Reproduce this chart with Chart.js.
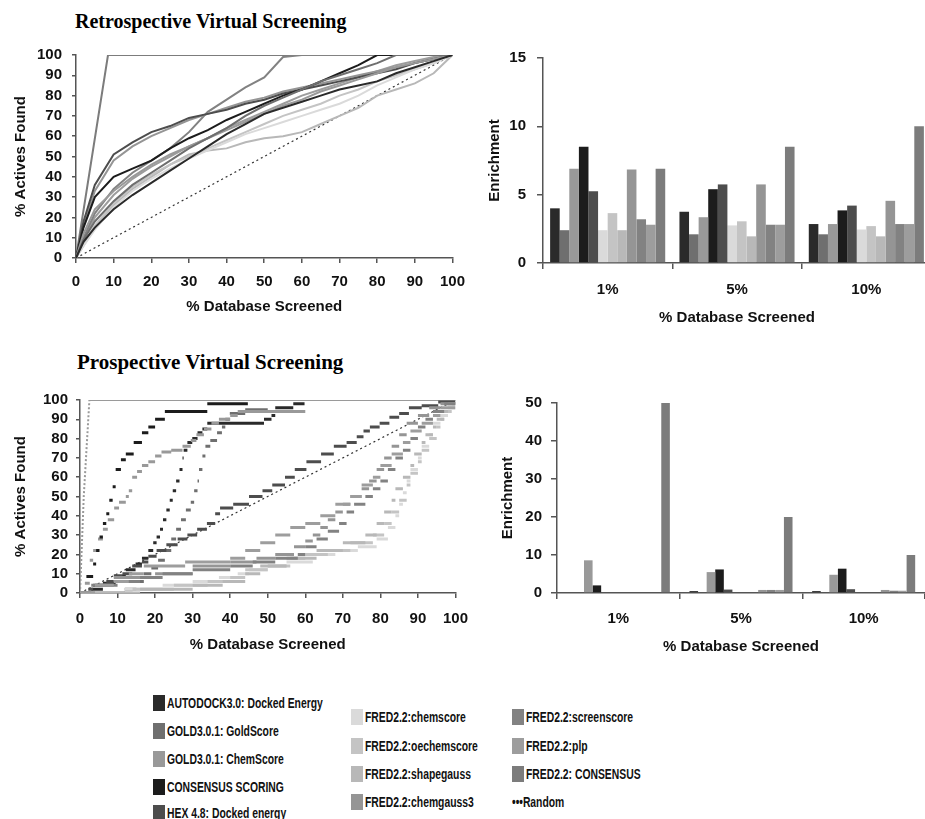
<!DOCTYPE html>
<html lang="en">
<head>
<meta charset="UTF-8">
<title>Retrospective and Prospective Virtual Screening</title>
<script src="https://cdn.jsdelivr.net/npm/chart.js"></script>
<style>
  html, body { margin: 0; padding: 0; background: #fff; }
  body { width: 925px; height: 819px; position: relative; overflow: hidden; font-family: "Liberation Sans", Arial, sans-serif; }
  canvas { position: absolute; }
  .titulo { position: absolute; font-family: "Liberation Serif", "Times New Roman", serif; font-weight: bold; line-height: 20px; color: #000; white-space: nowrap; }
  .leg { position: absolute; height: 16px; line-height: 16px; white-space: nowrap; }
  .leg .sw { position: absolute; left: 0; top: 0; width: 12px; height: 16px; }
  .leg .tx { position: absolute; left: 14px; top: 0; font-weight: bold; font-size: 14px; color: #111; transform: scaleX(0.74); transform-origin: left center; }
</style>
</head>
<body>
<div class="titulo" style="left:75px; top:11px; font-size:20px">Retrospective Virtual Screening</div>
<div class="titulo" style="left:77px; top:352px; font-size:21px">Prospective Virtual Screening</div>

<canvas id="retroLines" width="475" height="300" style="left:0; top:30px"></canvas>
<canvas id="retroBars" width="470" height="310" style="left:470px; top:30px"></canvas>
<canvas id="prospLines" width="480" height="285" style="left:0; top:375px"></canvas>
<canvas id="prospBars" width="465" height="280" style="left:470px; top:380px"></canvas>

<div id="legenda"></div>

<script>
// series, in legend / bar order
const seriesNames = [
  "AUTODOCK3.0: Docked Energy", "GOLD3.0.1: GoldScore", "GOLD3.0.1: ChemScore",
  "CONSENSUS SCORING", "HEX 4.8: Docked energy", "FRED2.2:chemscore",
  "FRED2.2:oechemscore", "FRED2.2:shapegauss", "FRED2.2:chemgauss3",
  "FRED2.2:screenscore", "FRED2.2:plp", "FRED2.2: CONSENSUS"
];
const seriesColors = [
  "#2a2a2a", "#6f6f6f", "#999999", "#1c1c1c", "#4d4d4d", "#dadada",
  "#c4c4c4", "#b8b8b8", "#959595", "#828282", "#9d9d9d", "#7c7c7c"
];

const categories = ["1%", "5%", "10%"];

// enrichment per series at 1%, 5%, 10%
const retroEnrichment = [
  [4.0, 3.75, 2.85], [2.4, 2.1, 2.1], [6.9, 3.35, 2.85], [8.5, 5.4, 3.85],
  [5.25, 5.75, 4.2], [2.4, 2.75, 2.45], [3.65, 3.05, 2.7], [2.4, 1.95, 1.95],
  [6.85, 5.75, 4.55], [3.2, 2.8, 2.85], [2.8, 2.8, 2.85], [6.9, 8.5, 10.0]
];
const prospEnrichment = [
  [0, 0.5, 0.5], [0, 0, 0], [8.6, 5.5, 4.8], [2.0, 6.2, 6.4],
  [0, 0.9, 1.0], [0, 0, 0], [0, 0, 0], [0, 0, 0],
  [0, 0.8, 0.8], [0, 0.8, 0.6], [0, 0.8, 0.6], [50, 20, 10]
];

// retrospective curves: % actives found at these % screened
const retroX = [0, 2, 5, 10, 15, 20, 25, 30, 35, 40, 45, 50, 55, 60, 65, 70, 75, 80, 85, 90, 95, 100];
const retroCurves = [
  [0, 8, 15, 24, 31, 37, 43, 49, 55, 61, 66, 71, 74, 77, 80, 83, 85, 87, 91, 94, 97, 100],
  [0, 9, 18, 28, 36, 42, 48, 54, 59, 64, 70, 75, 79, 83, 87, 90, 93, 96, 100, 100, 100, 100],
  [0, 12, 24, 33, 40, 46, 51, 55, 59, 63, 67, 71, 75, 78, 82, 85, 88, 91, 94, 96, 98, 100],
  [0, 15, 30, 40, 44, 48, 54, 59, 63, 68, 72, 76, 80, 83, 87, 91, 95, 100, 100, 100, 100, 100],
  [0, 18, 36, 51, 57, 62, 65, 69, 71, 73, 76, 78, 81, 83, 85, 87, 89, 91, 93, 96, 98, 100],
  [0, 6, 14, 25, 33, 39, 44, 49, 53, 57, 61, 64, 67, 70, 73, 76, 80, 85, 89, 93, 96, 100],
  [0, 7, 16, 27, 35, 41, 46, 50, 54, 58, 62, 66, 70, 73, 76, 80, 83, 87, 90, 93, 96, 100],
  [0, 6, 15, 26, 34, 40, 46, 51, 53, 54, 57, 59, 60, 62, 66, 70, 74, 80, 83, 86, 91, 100],
  [0, 16, 33, 48, 55, 60, 64, 68, 71, 74, 77, 79, 82, 84, 86, 88, 90, 92, 94, 96, 98, 100],
  [0, 10, 22, 34, 42, 48, 54, 62, 72, 78, 84, 89, 99, 100, 100, 100, 100, 100, 100, 100, 100, 100],
  [0, 9, 20, 31, 39, 45, 50, 55, 59, 64, 68, 72, 76, 80, 83, 86, 89, 92, 95, 97, 99, 100],
  null
];
const retroConsensusX = [0, 8.5, 100];
const retroConsensusY = [0, 100, 100];

// prospective curves: [% screened, % actives found] at each step
const prospCurves = [
  [[0,0],[3,2],[6.1,5],[9.5,8.5],[12.2,12],[14.8,15],[16.5,18],[18.2,22],[19.5,26],[20.4,29],[21.3,33],[22.1,38],[23,43],[23.9,48],[24.7,53],[25.6,58],[26.5,64],[27.3,70],[27.6,74],[28.6,78],[29.9,80],[31.3,83],[32.6,85],[33.9,88],[49,90],[51,92],[52,96],[56.8,98],[59.8,98]],
  [[0,0],[12,2],[15,6],[17,10],[19,13],[20.8,17],[22.6,22],[24.3,28],[25.6,33],[26.9,38],[28.2,43],[29.5,47],[30.4,53],[31.3,58],[31.7,64],[32.6,71],[33.4,76],[34.7,79],[36.5,83],[37.8,86],[38.7,90],[39.9,93],[44,95],[50,95]],
  [[0,0],[1.3,5],[2.6,17],[3.5,22],[4.8,28],[6.1,33],[7.4,38],[9.1,44],[10.4,47],[12.2,50],[13,53],[13.9,60],[15.2,63],[16.5,66],[18.2,68],[20,71],[21.7,73],[24.3,74],[27.3,76],[29.5,79],[31,82],[33,85],[35,88],[37,90],[40,92],[42,94],[60,94]],
  [[0,0],[1.7,8.5],[3.5,15],[4.3,22],[5.2,29],[6.1,36],[7,41],[7.8,48],[8.7,55],[9.5,64],[10.9,69],[12.2,72],[14.3,78],[16.5,83],[18.2,86],[20,90],[22.6,94],[33.9,98],[44.7,98]],
  [[0,0],[2.2,2],[3.5,4],[7,6],[9,9],[11.3,10],[13.9,14],[16.5,16],[18.2,19],[20.4,22],[23,25],[26,28],[28.6,30],[31.2,33],[33.8,36],[36,41],[37.3,44],[40.8,46],[45,50],[48.6,53],[51.2,56],[54.6,60],[57.2,64],[60.3,68],[64.2,72],[67.6,76],[71,78],[73.7,81],[75.5,84],[77.2,86],[79.8,88],[82.4,91],[85,93],[87.6,96],[91,97],[95.4,99],[100,100]],
  [[0,0],[11.7,2],[22,4],[30,6],[37,8],[42,10],[45,12],[50,14],[55,16],[62,20],[68,22],[74,24],[79,28],[82,34],[84,40],[85,46],[86,52],[87,58],[88,64],[90,70],[91,76],[93,82],[94,88],[96,92],[98,96],[100,100]],
  [[0,0],[14,2],[25,4],[34,6],[40,8],[44,12],[50,14],[56,18],[60,20],[66,22],[72,26],[78,30],[81,36],[83,42],[85,48],[87,56],[88,62],[90,68],[91,74],[93,80],[95,86],[96,90],[97,94],[99,98],[100,100]],
  [[0,0],[16,2],[30,4],[38,6],[44,10],[48,14],[55,18],[63,22],[70,26],[76,30],[79,36],[81,42],[83,48],[84,54],[86,60],[88,66],[89,72],[91,78],[92,82],[94,86],[95,90],[97,94],[98,98],[100,100]],
  [[0,0],[4,4],[9,8],[20,10],[30,14],[40,16],[47,18],[52,20],[57,24],[60,27],[62,30],[64,34],[66,38],[68,42],[70,46],[72,50],[75,54],[77,58],[79,64],[81,70],[83,76],[85,82],[87,88],[90,92],[93,96],[96,98],[100,100]],
  [[0,0],[3,4],[10,6],[16,8],[22,10],[30,12],[40,14],[46,16],[52,18],[58,20],[60,24],[63,28],[66,32],[69,36],[71,42],[73,46],[76,50],[78,54],[80,58],[82,64],[84,70],[86,74],[88,80],[90,86],[92,90],[94,94],[97,98],[100,100]],
  [[0,0],[4,4],[9,6],[13,10],[17,14],[28,16],[40,18],[44,22],[48,26],[52,30],[56,34],[60,36],[64,40],[68,46],[72,50],[75,56],[78,60],[80,66],[83,72],[86,78],[88,84],[91,88],[94,92],[96,96],[100,100]],
  [[0,0],[1,50],[2.5,100],[100,100]]
];

const randomLine = [[0, 0], [100, 100]];

Chart.defaults.font.family = '"Liberation Sans", Arial, sans-serif';
Chart.defaults.font.weight = 'bold';
Chart.defaults.font.size = 15;
Chart.defaults.color = '#111';

const corEixo = '#555';

function eixoLinear(min, max, passo, titulo, ajuste, tituloPad, tick, pad) {
  return {
    type: 'linear', min: min, max: max,
    ticks: { stepSize: passo, autoSkip: false, maxRotation: 0, padding: pad, font: { size: 15, weight: 'bold' }, color: '#111' },
    grid: { drawOnChartArea: false, drawTicks: true, tickLength: tick, color: corEixo, lineWidth: 1.5 },
    border: { display: true, color: corEixo, width: 1.5 },
    title: { display: true, text: titulo, padding: tituloPad, font: { size: 15, weight: 'bold' }, color: '#111' },
    afterFit: ajuste
  };
}

function larguraFixa(w) { return s => { s.width = w; }; }
function alturaFixa(h) { return s => { s.height = h; }; }

function graficoLinhas(id, datasets, cfg) {
  new Chart(document.getElementById(id), {
    type: 'line',
    data: { datasets: datasets },
    options: {
      responsive: false, animation: false,
      layout: { padding: cfg.padding },
      plugins: { legend: { display: false }, tooltip: { enabled: false } },
      elements: { point: { radius: 0 }, line: { tension: 0 } },
      scales: {
        x: eixoLinear(0, 100, 10, '% Database Screened', alturaFixa(cfg.xAltura), { bottom: cfg.xTituloPad }, 5, cfg.xTickPad),
        y: eixoLinear(0, 100, 10, '% Actives Found', larguraFixa(cfg.yLargura), { top: cfg.yTituloPad }, 4, cfg.yTickPad)
      }
    }
  });
}

function graficoBarras(id, valores, cfg) {
  const datasets = seriesNames.map((nome, i) => ({
    label: nome,
    data: valores[i],
    backgroundColor: seriesColors[i],
    borderWidth: 0,
    barPercentage: 1.0,
    categoryPercentage: cfg.catPct
  }));
  new Chart(document.getElementById(id), {
    type: 'bar',
    data: { labels: categories, datasets: datasets },
    options: {
      responsive: false, animation: false,
      layout: { padding: cfg.padding },
      plugins: { legend: { display: false }, tooltip: { enabled: false } },
      scales: {
        x: {
          ticks: { padding: cfg.xTickPad, font: { size: 15, weight: 'bold' }, color: '#111' },
          grid: { drawOnChartArea: false, drawTicks: true, tickLength: 6, color: corEixo, lineWidth: 1.5, offset: true },
          border: { display: true, color: corEixo, width: 1.5 },
          title: { display: true, text: '% Database Screened', padding: { bottom: cfg.xTituloPad }, font: { size: 15, weight: 'bold' }, color: '#111' },
          afterFit: alturaFixa(cfg.xAltura)
        },
        y: {
          min: 0, max: cfg.yMax,
          ticks: { stepSize: cfg.yPasso, autoSkip: false, padding: cfg.yTickPad, font: { size: 15, weight: 'bold' }, color: '#111' },
          grid: { drawOnChartArea: false, drawTicks: true, tickLength: 6, color: corEixo, lineWidth: 1.5 },
          border: { display: true, color: corEixo, width: 1.5 },
          title: { display: true, text: 'Enrichment', padding: { top: cfg.yTituloPad }, font: { size: 15, weight: 'bold' }, color: '#111' },
          afterFit: larguraFixa(cfg.yLargura)
        }
      }
    }
  });
}

function pontos(xs, ys) { return xs.map((x, i) => ({ x: x, y: ys[i] })); }

// each step becomes a short horizontal dash, as in the original plot
function degraus(pts) {
  const out = [];
  for (let i = 0; i < pts.length - 1; i++) {
    out.push({ x: pts[i][0], y: pts[i][1] });
    out.push({ x: pts[i + 1][0], y: pts[i][1] });
    out.push({ x: pts[i + 1][0], y: null });
  }
  return out;
}

function novaRandom() {
  return {
    data: randomLine.map(p => ({ x: p[0], y: p[1] })),
    borderColor: '#333', borderWidth: 1.2, borderDash: [2, 3], order: 50
  };
}

// retrospective curves
const dsRetro = [novaRandom()];
seriesNames.forEach((nome, i) => {
  const dados = i === 11 ? pontos(retroConsensusX, retroConsensusY) : pontos(retroX, retroCurves[i]);
  dsRetro.push({ label: nome, data: dados, borderColor: seriesColors[i], borderWidth: 2, order: i });
});
graficoLinhas('retroLines', dsRetro, {
  padding: { top: 25, right: 16, left: 0, bottom: 0 },
  xAltura: 72, xTituloPad: 14, xTickPad: 10,
  yLargura: 76, yTituloPad: 12, yTickPad: 10
});

// prospective curves
const dsProsp = [novaRandom()];
seriesNames.forEach((nome, i) => {
  if (i === 11) {
    dsProsp.push({
      label: nome, data: prospCurves[i].map(p => ({ x: p[0], y: p[1] })),
      borderColor: '#9a9a9a', borderWidth: 2, order: 40,
      segment: { borderDash: ctx => ctx.p1DataIndex < 3 ? [2, 2] : undefined }
    });
  } else {
    dsProsp.push({
      label: nome, data: degraus(prospCurves[i]), spanGaps: false,
      borderColor: seriesColors[i], borderWidth: 3, borderCapStyle: 'butt', order: 11 - i
    });
  }
});
graficoLinhas('prospLines', dsProsp, {
  padding: { top: 25, right: 16, left: 0, bottom: 0 },
  xAltura: 67, xTituloPad: 6, xTickPad: 12,
  yLargura: 80, yTituloPad: 12, yTickPad: 8
});

graficoBarras('retroBars', retroEnrichment, {
  padding: { top: 28, right: 9, left: 0, bottom: 0 },
  catPct: 0.89, yMax: 15, yPasso: 5,
  xAltura: 77, xTituloPad: 13, xTickPad: 12,
  yLargura: 73, yTituloPad: 16, yTickPad: 11
});

graficoBarras('prospBars', prospEnrichment, {
  padding: { top: 23, right: 10, left: 0, bottom: 0 },
  catPct: 0.84, yMax: 50, yPasso: 10,
  xAltura: 67, xTituloPad: 4, xTickPad: 11,
  yLargura: 87, yTituloPad: 29, yTickPad: 9
});

// legend placement (left, text centre y) for each series, then Random
const legendSlots = [
  [153, 703], [153, 731], [153, 759], [153, 787], [153, 813],
  [351, 717], [351, 746], [351, 774], [351, 802],
  [512, 717], [512, 746], [512, 774]
];
const legenda = document.getElementById('legenda');
seriesNames.forEach((nome, i) => {
  const item = document.createElement('div');
  item.className = 'leg';
  item.style.left = legendSlots[i][0] + 'px';
  item.style.top = (legendSlots[i][1] - 8) + 'px';
  item.innerHTML = '<div class="sw" style="background:' + seriesColors[i] + '"></div><span class="tx"></span>';
  item.querySelector('.tx').textContent = nome;
  legenda.appendChild(item);
});
const rnd = document.createElement('div');
rnd.className = 'leg';
rnd.style.left = '512px';
rnd.style.top = '794px';
rnd.innerHTML = '<span class="tx" style="left:0">\u2022\u2022\u2022Random</span>';
legenda.appendChild(rnd);
</script>
</body>
</html>
